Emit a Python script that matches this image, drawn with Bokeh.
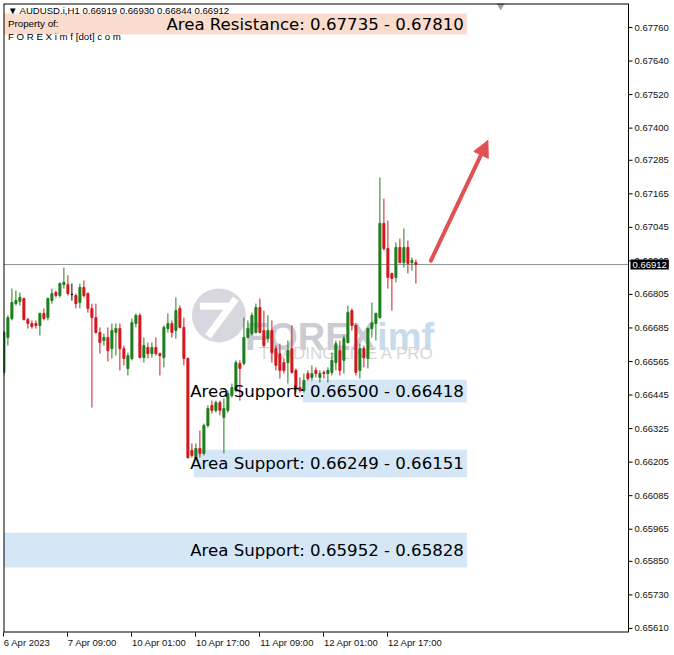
from bokeh.plotting import figure
from bokeh.models import (FixedTicker, Range1d, Label, Arrow, NormalHead, Span)
from bokeh.embed import file_html
from bokeh.resources import INLINE
from bokeh.core.properties import value

# ---------------- data (AUDUSD H1) ----------------
open_ = [
    0.66526, 0.66651, 0.66719, 0.66772, 0.66780, 0.66790, 0.66715, 0.66701, 0.66701, 0.66694,
    0.66737, 0.66722, 0.66783, 0.66812, 0.66801, 0.66840, 0.66840, 0.66805, 0.66801, 0.66776,
    0.66830, 0.66808, 0.66755, 0.66722, 0.66669, 0.66640, 0.66651, 0.66611, 0.66669, 0.66683,
    0.66611, 0.66540, 0.66576, 0.66701, 0.66730, 0.66579, 0.66615, 0.66593, 0.66615, 0.66593,
    0.66579, 0.66683, 0.66701, 0.66676, 0.66755, 0.66687, 0.66576, 0.66247, 0.66221, 0.66254,
    0.66236, 0.66336, 0.66408, 0.66390, 0.66418, 0.66365, 0.66390, 0.66443, 0.66461, 0.66558,
    0.66558, 0.66651, 0.66665, 0.66669, 0.66758, 0.66676, 0.66647, 0.66676, 0.66611, 0.66593,
    0.66561, 0.66561, 0.66611, 0.66533, 0.66472, 0.66461, 0.66522, 0.66508, 0.66533, 0.66508,
    0.66526, 0.66522, 0.66526, 0.66561, 0.66604, 0.66569, 0.66633, 0.66747, 0.66694, 0.66533,
    0.66611, 0.66576, 0.66683, 0.66701, 0.66722, 0.67059, 0.66969, 0.66880, 0.66866, 0.66973,
    0.66919, 0.66973, 0.66919, 0.66919]
high = [
    0.66676, 0.66730, 0.66826, 0.66819, 0.66812, 0.66794, 0.66722, 0.66712, 0.66712, 0.66740,
    0.66755, 0.66794, 0.66826, 0.66819, 0.66848, 0.66901, 0.66873, 0.66844, 0.66808, 0.66844,
    0.66855, 0.66812, 0.66772, 0.66772, 0.66687, 0.66665, 0.66687, 0.66701, 0.66701, 0.66701,
    0.66622, 0.66597, 0.66719, 0.66737, 0.66737, 0.66651, 0.66633, 0.66633, 0.66651, 0.66597,
    0.66694, 0.66737, 0.66712, 0.66794, 0.66765, 0.66722, 0.66579, 0.66272, 0.66272, 0.66318,
    0.66343, 0.66408, 0.66425, 0.66425, 0.66425, 0.66433, 0.66461, 0.66486, 0.66569, 0.66569,
    0.66722, 0.66712, 0.66740, 0.66772, 0.66790, 0.66747, 0.66730, 0.66712, 0.66622, 0.66629,
    0.66576, 0.66640, 0.66694, 0.66540, 0.66508, 0.66522, 0.66533, 0.66551, 0.66544, 0.66533,
    0.66533, 0.66544, 0.66597, 0.66640, 0.66640, 0.66658, 0.66765, 0.66755, 0.66701, 0.66629,
    0.66622, 0.66687, 0.66776, 0.66740, 0.67223, 0.67148, 0.67069, 0.66883, 0.66991, 0.67005,
    0.67041, 0.66998, 0.66937, 0.66930]
low = [
    0.66515, 0.66622, 0.66712, 0.66765, 0.66765, 0.66712, 0.66683, 0.66683, 0.66683, 0.66658,
    0.66712, 0.66712, 0.66772, 0.66794, 0.66794, 0.66826, 0.66801, 0.66783, 0.66755, 0.66755,
    0.66794, 0.66740, 0.66400, 0.66665, 0.66593, 0.66622, 0.66565, 0.66576, 0.66586, 0.66533,
    0.66551, 0.66515, 0.66569, 0.66687, 0.66576, 0.66561, 0.66576, 0.66579, 0.66586, 0.66515,
    0.66544, 0.66669, 0.66651, 0.66647, 0.66683, 0.66551, 0.66218, 0.66221, 0.66218, 0.66221,
    0.66229, 0.66329, 0.66379, 0.66382, 0.66372, 0.66236, 0.66382, 0.66436, 0.66454, 0.66425,
    0.66551, 0.66647, 0.66658, 0.66665, 0.66665, 0.66615, 0.66633, 0.66561, 0.66533, 0.66504,
    0.66522, 0.66486, 0.66522, 0.66454, 0.66454, 0.66454, 0.66497, 0.66497, 0.66508, 0.66490,
    0.66504, 0.66490, 0.66515, 0.66533, 0.66515, 0.66522, 0.66629, 0.66676, 0.66515, 0.66504,
    0.66544, 0.66540, 0.66651, 0.66640, 0.66719, 0.66962, 0.66826, 0.66747, 0.66848, 0.66916,
    0.66901, 0.66880, 0.66891, 0.66844]
close = [
    0.66669, 0.66722, 0.66776, 0.66783, 0.66794, 0.66715, 0.66701, 0.66690, 0.66694, 0.66737,
    0.66719, 0.66790, 0.66808, 0.66801, 0.66844, 0.66848, 0.66808, 0.66805, 0.66772, 0.66830,
    0.66801, 0.66755, 0.66722, 0.66669, 0.66633, 0.66651, 0.66604, 0.66676, 0.66683, 0.66611,
    0.66576, 0.66586, 0.66704, 0.66730, 0.66579, 0.66622, 0.66593, 0.66615, 0.66593, 0.66586,
    0.66687, 0.66701, 0.66669, 0.66747, 0.66687, 0.66576, 0.66221, 0.66229, 0.66254, 0.66236,
    0.66336, 0.66397, 0.66390, 0.66418, 0.66390, 0.66397, 0.66450, 0.66472, 0.66561, 0.66540,
    0.66651, 0.66683, 0.66730, 0.66758, 0.66669, 0.66622, 0.66676, 0.66597, 0.66551, 0.66533,
    0.66533, 0.66604, 0.66526, 0.66468, 0.66461, 0.66497, 0.66504, 0.66522, 0.66522, 0.66522,
    0.66522, 0.66533, 0.66569, 0.66629, 0.66533, 0.66647, 0.66740, 0.66694, 0.66526, 0.66611,
    0.66579, 0.66683, 0.66704, 0.66737, 0.67059, 0.66969, 0.66866, 0.66862, 0.66973, 0.66919,
    0.66973, 0.66916, 0.66926, 0.66912]

x_tick_bars = [0, 16, 32, 48, 64, 80, 96]
x_tick_labels = ["6 Apr 2023", "7 Apr 09:00", "10 Apr 01:00", "10 Apr 17:00",
                 "11 Apr 09:00", "12 Apr 01:00", "12 Apr 17:00"]
y_ticks = [0.67760, 0.67640, 0.67520, 0.67400, 0.67285, 0.67165, 0.67045, 0.66925,
           0.66805, 0.66685, 0.66565, 0.66445, 0.66325, 0.66205, 0.66085, 0.65965,
           0.65850, 0.65730, 0.65610]
y_tick_labels = ["0.67760", "0.67640", "0.67520", "0.67400", "0.67285", "0.67165",
                 "0.67045", "0.66925", "0.66805", "0.66685", "0.66565", "0.66445",
                 "0.66325", "0.66205", "0.66085", "0.65965", "0.65850", "0.65730",
                 "0.65610"]

last_price = 0.66912
zone_titles = ["Area Resistance", "Area Support", "Area Support", "Area Support"]
zone_from = [0.67735, 0.66500, 0.66249, 0.65952]
zone_to = [0.67810, 0.66418, 0.66151, 0.65828]

# ---------------- layout / styles ----------------
X0 = -0.1                     # chart area starts here (bars), 4 px per bar
X1 = X0 + 625 / 4             # right border of the chart area
X_END = X1 + 46 / 4           # price-scale strip to the right of the chart
Y0, Y1 = 0.655954, 0.678459
zone_left = [X0, 74.75, 47.5, X0]
zone_right = [115.75] * 4
zone_colors = ["#f9dccd", "#d5e7f7", "#d5e7f7", "#d5e7f7"]
label_shift = [5.8, 6.1, 6.8, 6.8, 6.8, 6.8, 6.8]
UP, DOWN, DOJI = "#1c7d1c", "#d3161c", "#000000"
FONT = "Liberation Sans"

p = figure(width=674, height=655, x_range=Range1d(X0, X_END), y_range=Range1d(Y0, Y1),
           y_axis_location=None, output_backend="svg", toolbar_location=None,
           min_border_left=3, min_border_top=3, min_border_right=0, min_border_bottom=23)
p.background_fill_color = "white"
p.border_fill_color = "white"
p.outline_line_color = None
p.grid.visible = False

# x axis: labels start at the tick, like MT4
xa = p.xaxis[0]
centers = [b + s for b, s in zip(x_tick_bars, label_shift)]
xa.ticker = FixedTicker(ticks=centers, minor_ticks=x_tick_bars)
xa.major_label_overrides = {c: t for c, t in zip(centers, x_tick_labels)}
xa.major_tick_line_color = None
xa.major_tick_out = 0
xa.major_tick_in = 0
xa.minor_tick_out = 4
xa.minor_tick_in = 0
xa.minor_tick_line_color = "black"
xa.major_label_standoff = 0
xa.major_label_text_font = FONT
xa.major_label_text_font_size = "9.5px"
xa.major_label_text_color = "#111111"
xa.axis_line_color = None

# zones
p.quad(left=zone_left, right=zone_right,
       bottom=[min(a, b) for a, b in zip(zone_from, zone_to)],
       top=[max(a, b) for a, b in zip(zone_from, zone_to)],
       fill_color=zone_colors, line_color=None)

# watermark
p.scatter(x=[53.75], y=[0.66730], size=54, marker="circle",
          fill_color="#d7d7df", line_color=None)
p.segment(x0=[49.0], y0=[0.66763], x1=[56.5], y1=[0.66763],
          line_color="white", line_width=7)
p.segment(x0=[51.0], y0=[0.66655], x1=[58.0], y1=[0.66790],
          line_color="white", line_width=7)
p.text(x=[93.0], y=[0.66654], text=["FOREX"], text_align="right",
       text_baseline="alphabetic", text_font=value(FONT),
       text_font_style="bold", text_font_size="38px", text_color="#cbcbd3")
p.text(x=[93.3], y=[0.66654], text=["imf"], text_align="left",
       text_baseline="alphabetic", text_font=value(FONT),
       text_font_style="bold", text_font_size="38px", text_color="#c8dbec")
p.text(x=[63.75], y=[0.66594], text=["TRADING LIKE A PRO"], text_align="left",
       text_baseline="middle", text_font=value(FONT),
       text_font_size="17px", text_color="#d6d6da")

# current price line (chart area only)
p.segment(x0=[X0], x1=[X1], y0=[last_price], y1=[last_price],
          line_color="#8e9696", line_width=1)

# candles
idx = list(range(len(open_)))
colors = [UP if c > o else (DOWN if c < o else DOJI) for o, c in zip(open_, close)]
p.segment(x0=idx, y0=low, x1=idx, y1=high, line_color=colors, line_width=1)
p.vbar(x=idx, width=0.5, top=[max(o, c) for o, c in zip(open_, close)],
       bottom=[min(o, c) for o, c in zip(open_, close)],
       fill_color=colors, line_color=colors, line_width=1)

# chart-shift marker at top
p.scatter(x=[124.2], y=[Y1], marker="inverted_triangle", size=12,
          fill_color="#9aa0a6", line_color=None)

# chart border (left, top, bottom, right)
p.segment(x0=[X0, X0, X0], x1=[X0, X1, X1], y0=[Y0, Y1, Y0], y1=[Y1, Y1, Y0],
          line_color="black", line_width=2)
p.add_layout(Span(location=X1, dimension="height", line_color="black", line_width=1))

# price scale on the right
n = len(y_ticks)
p.segment(x0=[X1] * n, x1=[X1 + 1.0] * n, y0=y_ticks, y1=y_ticks,
          line_color="black", line_width=1)
p.text(x=[X1 + 1.5] * n, y=y_ticks, text=y_tick_labels, text_align="left",
       text_baseline="middle", text_font=value(FONT), text_font_size="9.5px",
       text_color="#111111")

# zone labels
for t, a, b in zip(zone_titles, zone_from, zone_to):
    p.add_layout(Label(x=115, y=(a + b) / 2, text=f"{t}: {a:.5f} - {b:.5f}",
                       text_align="right", text_baseline="middle",
                       text_font="DejaVu Sans", text_font_size="16.6px",
                       text_color="black"))

# header texts
p.add_layout(Label(x=1.0, y=0.67821,
                   text="\u25bc AUDUSD.i,H1  " + " ".join(f"{v:.5f}" for v in
                        (open_[-1], high[-1], low[-1], close[-1])),
                   text_align="left", text_baseline="middle",
                   text_font=FONT, text_font_size="9.6px", text_color="black"))
p.add_layout(Label(x=1.0, y=0.67774, text="Property of:", text_align="left",
                   text_baseline="middle", text_font=FONT,
                   text_font_size="9.8px", text_color="black"))
p.add_layout(Label(x=1.0, y=0.67728, text="F O R E X i m f [dot] c o m",
                   text_align="left", text_baseline="middle",
                   text_font=FONT, text_font_size="9.7px", text_color="black"))

# arrow
p.add_layout(Arrow(end=NormalHead(size=16, fill_color="#e15151", line_color="#e15151"),
                   x_start=106.75, y_start=0.66926, x_end=121.0, y_end=0.67356,
                   line_color="#e15151", line_width=4, line_cap="round"))

# current price tag on the price scale
p.add_layout(Label(x=X1 + 0.5, y=last_price, text=f"{last_price:.5f}",
                   text_align="left", text_baseline="middle",
                   text_font=FONT, text_font_size="9.5px",
                   text_color="white", background_fill_color="black", padding=2))

open("out.html", "w").write(file_html(p, INLINE))
